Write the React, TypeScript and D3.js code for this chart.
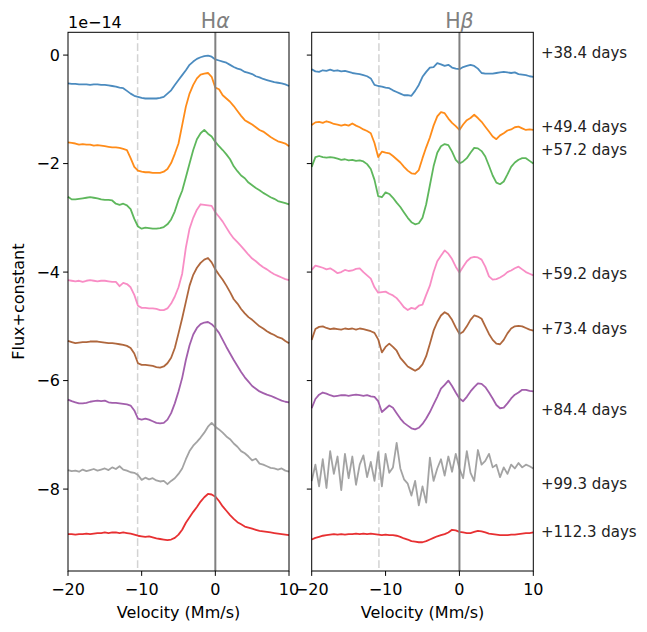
import * as d3 from "d3"

// velocity grid (Mm/s) shared by every spectrum
const velocity = [
  -20, -19.5, -19, -18.5, -18, -17.5, -17, -16.5, -16, -15.5,
  -15, -14.5, -14, -13.5, -13, -12.5, -12, -11.5, -11, -10.5,
  -10, -9.5, -9, -8.5, -8, -7.5, -7, -6.5, -6, -5.5,
  -5, -4.5, -4, -3.5, -3, -2.5, -2, -1.5, -1, -0.5,
  0, 0.5, 1, 1.5, 2, 2.5, 3, 3.5, 4, 4.5,
  5, 5.5, 6, 6.5, 7, 7.5, 8, 8.5, 9, 9.5,
  10,
]

const epochs = ["+38.4 days", "+49.4 days", "+57.2 days", "+59.2 days", "+73.4 days", "+84.4 days", "+99.3 days", "+112.3 days"]
const epochLabelY = [0.04, -1.33, -1.74, -4.03, -5.04, -6.53, -7.9, -8.79]
const epochColors = ["#377eb8", "#ff7f00", "#4daf4a", "#f781bf", "#a65628", "#984ea3", "#999999", "#e41a1c"]

// H-alpha, flux + constant (1e-14)
const ha38 = [
  -0.52, -0.53, -0.53, -0.54, -0.54, -0.54, -0.55, -0.54, -0.54, -0.55,
  -0.55, -0.56, -0.57, -0.58, -0.6, -0.61, -0.66, -0.71, -0.75, -0.77,
  -0.79, -0.8, -0.8, -0.8, -0.8, -0.79, -0.77, -0.71, -0.65, -0.55,
  -0.46, -0.37, -0.28, -0.18, -0.12, -0.07, -0.04, -0.02, -0.01, -0.03,
  -0.08, -0.1, -0.12, -0.14, -0.18, -0.22, -0.25, -0.27, -0.31, -0.33,
  -0.35, -0.39, -0.41, -0.44, -0.46, -0.48, -0.5, -0.51, -0.52, -0.54,
  -0.57,
]
const ha49 = [
  -1.61, -1.62, -1.63, -1.65, -1.64, -1.65, -1.65, -1.67, -1.66, -1.67,
  -1.68, -1.69, -1.7, -1.7, -1.71, -1.73, -1.75, -1.9, -2.06, -2.13,
  -2.15, -2.16, -2.16, -2.17, -2.17, -2.17, -2.15, -2.1, -1.99, -1.82,
  -1.63, -1.29, -0.95, -0.71, -0.55, -0.43, -0.36, -0.34, -0.33, -0.4,
  -0.6, -0.63, -0.74, -0.8, -0.86, -0.94, -1.03, -1.12, -1.2, -1.24,
  -1.28, -1.33, -1.38, -1.41, -1.46, -1.51, -1.55, -1.59, -1.61, -1.63,
  -1.68,
]
const ha57 = [
  -2.61, -2.66, -2.66, -2.65, -2.64, -2.63, -2.62, -2.63, -2.64, -2.66,
  -2.67, -2.67, -2.68, -2.74, -2.76, -2.74, -2.77, -2.84, -3.02, -3.16,
  -3.2, -3.18, -3.19, -3.2, -3.2, -3.19, -3.17, -3.12, -3.03, -2.88,
  -2.67, -2.5, -2.25, -2.0, -1.75, -1.55, -1.44, -1.38, -1.45, -1.5,
  -1.6, -1.68, -1.75, -1.83, -1.92, -2.05, -2.14, -2.22, -2.27, -2.35,
  -2.4, -2.45, -2.49, -2.54, -2.58, -2.62, -2.65, -2.69, -2.71, -2.73,
  -2.75,
]
const ha59 = [
  -4.15, -4.16, -4.17, -4.16, -4.18, -4.16, -4.15, -4.16, -4.17, -4.16,
  -4.16, -4.17, -4.18, -4.18, -4.26, -4.2, -4.22, -4.28, -4.42, -4.62,
  -4.66, -4.66, -4.67, -4.67, -4.68, -4.7, -4.7, -4.67, -4.58, -4.45,
  -4.28, -4.03, -3.55, -3.2, -3.0, -2.85, -2.75, -2.76, -2.77, -2.78,
  -2.9, -2.98, -3.07, -3.18, -3.29, -3.38, -3.45, -3.52, -3.6, -3.68,
  -3.75, -3.8, -3.86, -3.91, -3.95, -4.0, -4.04, -4.07, -4.1, -4.13,
  -4.15,
]
const ha73 = [
  -5.27, -5.29, -5.31, -5.3, -5.29, -5.29, -5.28, -5.28, -5.28, -5.29,
  -5.3, -5.31, -5.31, -5.32, -5.33, -5.34, -5.36, -5.4, -5.5, -5.68,
  -5.71, -5.71, -5.72, -5.73, -5.75, -5.76, -5.74, -5.68, -5.58, -5.4,
  -5.13, -4.85, -4.55, -4.25, -4.05, -3.92, -3.83, -3.77, -3.74, -3.82,
  -3.95, -4.05, -4.14, -4.25, -4.37, -4.5, -4.58, -4.68, -4.76, -4.83,
  -4.88, -4.94, -5.0, -5.04, -5.09, -5.13, -5.16, -5.2, -5.22, -5.27,
  -5.31,
]
const ha84 = [
  -6.35, -6.38, -6.4, -6.42, -6.42, -6.41, -6.39, -6.38, -6.37, -6.38,
  -6.37, -6.4, -6.41, -6.41, -6.42, -6.43, -6.44, -6.46, -6.55, -6.7,
  -6.72, -6.7, -6.72, -6.75, -6.78, -6.79, -6.78, -6.72, -6.6, -6.42,
  -6.2, -5.95, -5.62, -5.35, -5.15, -5.03, -4.96, -4.93, -4.92, -4.96,
  -5.03, -5.12, -5.25, -5.38, -5.5, -5.62, -5.73, -5.84, -5.94, -6.02,
  -6.1, -6.15, -6.2, -6.23, -6.26, -6.28, -6.31, -6.34, -6.37, -6.39,
  -6.4,
]
const ha99 = [
  -7.65, -7.67, -7.66, -7.68, -7.64, -7.67, -7.65, -7.63, -7.66, -7.64,
  -7.62, -7.65, -7.6, -7.63, -7.58, -7.64, -7.66, -7.69, -7.7, -7.74,
  -7.83, -7.79, -7.82, -7.8, -7.84, -7.86, -7.85, -7.91, -7.85, -7.8,
  -7.72, -7.62, -7.45, -7.3, -7.2, -7.13, -7.05, -6.96, -6.85, -6.78,
  -6.85, -6.9, -6.96, -7.03, -7.08, -7.16, -7.22, -7.3, -7.34, -7.4,
  -7.47, -7.44, -7.53, -7.55, -7.58, -7.61, -7.62, -7.64, -7.62, -7.66,
  -7.68,
]
const ha112 = [
  -8.83, -8.83, -8.84, -8.83, -8.83, -8.82, -8.83, -8.82, -8.81, -8.81,
  -8.8, -8.81, -8.8, -8.8, -8.81, -8.8, -8.81, -8.82, -8.84, -8.86,
  -8.87, -8.88, -8.87, -8.89, -8.91, -8.92, -8.93, -8.94, -8.93, -8.9,
  -8.84, -8.75, -8.62, -8.52, -8.42, -8.33, -8.23, -8.15, -8.09, -8.1,
  -8.14, -8.22, -8.32, -8.4, -8.48, -8.55, -8.61, -8.65, -8.69, -8.71,
  -8.73, -8.75, -8.77, -8.78, -8.79, -8.8, -8.81, -8.82, -8.83, -8.84,
  -8.85,
]

// H-beta, flux + constant (1e-14)
const hb38 = [
  -0.26, -0.3, -0.31, -0.28, -0.29, -0.27, -0.29, -0.28, -0.3, -0.29,
  -0.31, -0.33, -0.34, -0.35, -0.37, -0.39, -0.43, -0.55, -0.57, -0.58,
  -0.6, -0.61, -0.65, -0.68, -0.71, -0.74, -0.74, -0.75, -0.66, -0.55,
  -0.4, -0.31, -0.23, -0.22, -0.15, -0.17, -0.2, -0.18, -0.23, -0.25,
  -0.26, -0.22, -0.2, -0.18, -0.2, -0.25, -0.33, -0.34, -0.34, -0.34,
  -0.33, -0.32, -0.31, -0.32, -0.33, -0.32, -0.35, -0.36, -0.37, -0.39,
  -0.4,
]
const hb49 = [
  -1.29, -1.24, -1.23, -1.25, -1.22, -1.24, -1.27, -1.28, -1.3, -1.28,
  -1.3, -1.26, -1.3, -1.33, -1.37, -1.4, -1.44, -1.62, -1.88, -1.78,
  -1.8, -1.81, -1.86, -1.92, -1.98, -2.06, -2.13, -2.18, -2.19, -2.12,
  -1.9, -1.7, -1.52, -1.3, -1.13, -1.05, -1.07, -1.17, -1.25, -1.31,
  -1.38, -1.28, -1.2, -1.16, -1.1, -1.16, -1.23, -1.32, -1.41, -1.5,
  -1.55, -1.48, -1.44, -1.39, -1.37, -1.33, -1.32, -1.35, -1.38, -1.37,
  -1.38,
]
const hb57 = [
  -2.06, -1.88, -1.86, -1.88, -1.89, -1.88, -1.89, -1.91, -1.93, -1.92,
  -1.94, -1.93, -1.95, -1.94, -1.96, -2.01, -2.1, -2.3, -2.6, -2.62,
  -2.53, -2.56, -2.63, -2.72, -2.8, -2.9, -3.0, -3.08, -3.12, -3.1,
  -3.0, -2.75, -2.4, -2.05, -1.8, -1.68, -1.64, -1.66, -1.78, -1.93,
  -2.0, -1.96, -1.9, -1.8, -1.71, -1.72, -1.77, -1.87, -2.04, -2.22,
  -2.35, -2.38, -2.33, -2.2, -2.06, -1.98, -1.93, -1.9, -1.9, -1.95,
  -2.0,
]
const hb59 = [
  -3.96, -3.88, -3.9, -3.92, -3.95, -3.93, -3.97, -4.02, -4.0, -3.96,
  -3.98, -3.97, -3.94, -3.93, -4.0, -4.06, -4.12, -4.28, -4.38, -4.37,
  -4.36, -4.4, -4.43, -4.48, -4.56, -4.65, -4.7, -4.66, -4.68, -4.62,
  -4.6, -4.42, -4.25, -4.0, -3.8, -3.7, -3.6, -3.66, -3.76, -3.9,
  -4.01, -3.9, -3.8, -3.74, -3.72, -3.73, -3.77, -3.9, -4.08, -4.14,
  -4.13, -4.1, -4.06, -4.0, -3.97, -3.93, -3.9, -3.95, -4.0, -4.03,
  -4.06,
]
const hb73 = [
  -5.25, -5.05, -5.01, -5.0, -5.03, -5.05, -5.04, -5.05, -5.06, -5.04,
  -5.05, -5.04, -5.06, -5.04, -5.05, -5.07, -5.09, -5.12, -5.24, -5.48,
  -5.38, -5.32, -5.38, -5.45, -5.58, -5.66, -5.74, -5.78, -5.82, -5.78,
  -5.7, -5.55, -5.32, -5.08, -4.92, -4.8, -4.74, -4.78, -4.88, -5.02,
  -5.14, -5.1, -5.0, -4.88, -4.8, -4.82, -4.86, -5.0, -5.14, -5.25,
  -5.32, -5.33, -5.25, -5.13, -5.04, -5.0, -4.99, -5.0, -5.03, -5.06,
  -5.08,
]
const hb84 = [
  -6.51, -6.34, -6.26, -6.22, -6.24, -6.27, -6.29, -6.28, -6.27, -6.27,
  -6.28, -6.27, -6.26, -6.27, -6.28, -6.27, -6.29, -6.3, -6.38, -6.58,
  -6.52, -6.46, -6.5, -6.6, -6.7, -6.78, -6.83, -6.88, -6.9, -6.87,
  -6.8, -6.7, -6.58, -6.44, -6.3, -6.15, -6.08, -6.0, -6.1, -6.22,
  -6.33, -6.38, -6.3, -6.2, -6.12, -6.05, -6.06, -6.12, -6.22, -6.33,
  -6.45, -6.51, -6.5, -6.42, -6.33, -6.26, -6.22, -6.17, -6.17, -6.19,
  -6.2,
]
const hb99 = [
  -7.85, -7.55, -7.95, -7.45, -7.98, -7.3, -7.72, -7.4, -8.02, -7.35,
  -7.8, -7.4, -7.92, -7.55, -7.38, -7.78, -7.5, -7.85, -7.32, -7.95,
  -7.35, -7.7, -7.6, -7.15, -7.62, -7.82, -7.9, -8.12, -7.85, -8.3,
  -7.95, -8.25, -7.42, -7.85, -7.62, -7.45, -7.75, -7.4, -7.68, -7.35,
  -7.62, -7.8, -7.3, -7.7, -7.85, -7.28, -7.55, -7.48, -7.35, -7.6,
  -7.55, -7.78, -7.6, -7.72, -7.55, -7.62, -7.52, -7.6, -7.55, -7.58,
  -7.62,
]
const hb112 = [
  -8.93, -8.9, -8.88, -8.86, -8.85, -8.84, -8.83, -8.84, -8.83, -8.84,
  -8.83, -8.83, -8.82, -8.83, -8.82, -8.83, -8.82, -8.83, -8.84, -8.85,
  -8.84, -8.85, -8.85, -8.86, -8.88, -8.91, -8.93, -8.96, -8.97, -8.98,
  -8.98, -8.96, -8.93, -8.9, -8.87, -8.85, -8.83, -8.8, -8.75, -8.76,
  -8.79, -8.8, -8.81, -8.81, -8.79, -8.77, -8.78, -8.8, -8.82, -8.83,
  -8.84, -8.85, -8.85, -8.85, -8.84, -8.84, -8.83, -8.82, -8.81, -8.81,
  -8.8,
]

const halphaSpectra = [ha38, ha49, ha57, ha59, ha73, ha84, ha99, ha112]
const hbetaSpectra = [hb38, hb49, hb57, hb59, hb73, hb84, hb99, hb112]

const xTicks = [-20, -10, 0, 10]
const yTicks = [0, -2, -4, -6, -8]
const yDomain: [number, number] = [-9.51, 0.42]
const xDomain: [number, number] = [-20, 10]

const W = 647
const H = 632
const top = 32.3
const bottom = 571
const font = "DejaVu Sans, sans-serif"

type PanelProps = {
  x0: number
  x1: number
  spectra: number[][]
  greek: string
  absorption: number
  yLabels: boolean
}

const fmt = (d: number) => (d < 0 ? `\u2212${Math.abs(d)}` : `${d}`)

function Panel({ x0, x1, spectra, greek, absorption, yLabels }: PanelProps) {
  const x = d3.scaleLinear().domain(xDomain).range([x0, x1])
  const y = d3.scaleLinear().domain(yDomain).range([bottom, top])

  const line = d3
    .line<number>()
    .x((_, i) => x(velocity[i]))
    .y((d) => y(d))

  return (
    <g>
      <line x1={x(absorption)} x2={x(absorption)} y1={top} y2={bottom} stroke="#d3d3d3" strokeWidth={1.5} strokeDasharray="7.7,3.3" />
      {spectra.map((s, i) => (
        <path key={i} d={line(s) ?? ""} fill="none" stroke={epochColors[i]} strokeOpacity={0.9} strokeWidth={1.8} strokeLinejoin="round" />
      ))}
      <line x1={x(0)} x2={x(0)} y1={top} y2={bottom} stroke="#808080" strokeWidth={2} />
      <rect x={x0} y={top} width={x1 - x0} height={bottom - top} fill="none" stroke="#000" strokeWidth={1} />

      {xTicks.map((t) => (
        <g key={t} transform={`translate(${x(t)},${bottom})`}>
          <line y2={4.9} stroke="#000" />
          <text y={24} textAnchor="middle" fontSize={16} fontFamily={font}>
            {fmt(t)}
          </text>
        </g>
      ))}
      {yTicks.map((t) => (
        <g key={t} transform={`translate(${x0},${y(t)})`}>
          <line x2={-4.9} stroke="#000" />
          {yLabels && (
            <text x={-8} dy="0.35em" textAnchor="end" fontSize={16} fontFamily={font}>
              {fmt(t)}
            </text>
          )}
        </g>
      ))}

      <text x={x(0)} y={28} textAnchor="middle" fontSize={20.5} fontFamily={font} fill="#808080">
        H<tspan fontStyle="italic">{greek}</tspan>
      </text>
      <text x={(x0 + x1) / 2} y={618} textAnchor="middle" fontSize={16} fontFamily={font}>
        Velocity (Mm/s)
      </text>
    </g>
  )
}

export default function App() {
  const y = d3.scaleLinear().domain(yDomain).range([bottom, top])
  return (
    <svg width={W} height={H} viewBox={`0 0 ${W} ${H}`} style={{ position: "absolute", left: 0, top: 0, background: "#fff" }}>
      <rect width={W} height={H} fill="#fff" />
      <Panel x0={68} x1={289} spectra={halphaSpectra} greek="α" absorption={-10.55} yLabels />
      <Panel x0={311.7} x1={533.3} spectra={hbetaSpectra} greek="β" absorption={-10.9} yLabels={false} />

      <text x={68} y={28} fontSize={16} fontFamily={font}>
        1e−14
      </text>
      <text transform={`translate(24,${(top + bottom) / 2}) rotate(-90)`} textAnchor="middle" fontSize={16} fontFamily={font}>
        Flux+constant
      </text>

      {epochs.map((e, i) => (
        <text key={e} x={541} y={y(epochLabelY[i])} dy="0.35em" fontSize={15} fontFamily={font} fill="#222">
          {e}
        </text>
      ))}
    </svg>
  )
}
